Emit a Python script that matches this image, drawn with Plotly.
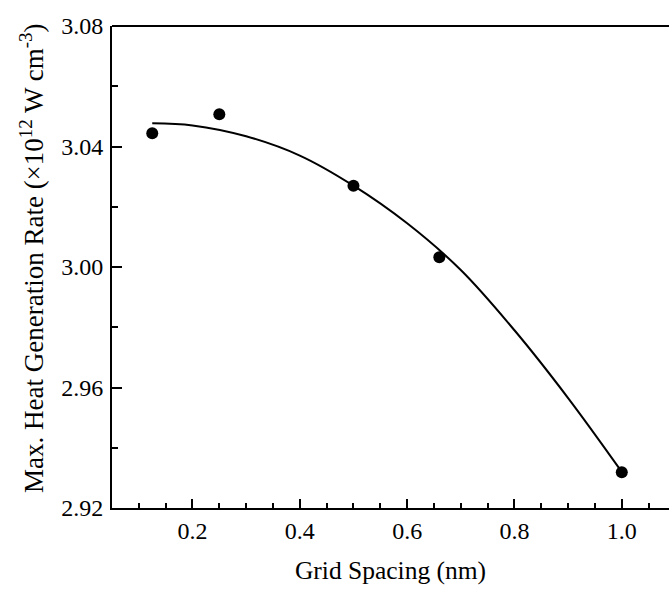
import plotly.graph_objects as go

# Data points
grid_spacing = [0.125, 0.25, 0.5, 0.66, 1.0]
max_heat_rate = [3.0444, 3.0507, 3.0270, 3.0032, 2.9319]

# Fitted curve samples
fit_x = [0.125, 0.2, 0.3, 0.4, 0.5, 0.6, 0.7, 0.8, 0.9, 1.0]
fit_y = [3.0477, 3.0470, 3.0434, 3.0370, 3.0270, 3.0145, 2.9990, 2.9790, 2.9565, 2.9320]

x_ticks = [0.2, 0.4, 0.6, 0.8, 1.0]
x_ticklabels = ["0.2", "0.4", "0.6", "0.8", "1.0"]
y_ticks = [2.92, 2.96, 3.00, 3.04, 3.08]
y_ticklabels = ["2.92", "2.96", "3.00", "3.04", "3.08"]

x_title = "Grid Spacing (nm)"
y_title = "Max. Heat Generation Rate (×10<sup>12</sup> W cm<sup>-3</sup>)"

FONT = "Liberation Serif"

fig = go.Figure()
fig.add_trace(go.Scatter(x=fit_x, y=fit_y, mode="lines",
                         line=dict(color="black", width=2, shape="spline"),
                         showlegend=False, hoverinfo="skip"))
fig.add_trace(go.Scatter(x=grid_spacing, y=max_heat_rate, mode="markers",
                         marker=dict(color="black", size=12),
                         showlegend=False))

fig.update_layout(
    width=669, height=590,
    margin=dict(l=112, r=0, t=26, b=82),
    paper_bgcolor="white", plot_bgcolor="white",
    font=dict(family=FONT, size=24, color="black"),
    xaxis=dict(
        range=[0.05, 1.088],
        tickvals=x_ticks, ticktext=x_ticklabels,
        ticks="inside", ticklen=9, tickwidth=2, tickcolor="black",
        minor=dict(dtick=0.05, tick0=0, ticks="inside", ticklen=5, tickwidth=2, tickcolor="black"),
        showline=True, linewidth=2, linecolor="black",
        showgrid=False, zeroline=False,
        tickfont=dict(family=FONT, size=24),
        title=dict(text=x_title, font=dict(family=FONT, size=25.5), standoff=18),
        automargin=False,
    ),
    yaxis=dict(
        range=[2.92, 3.08],
        tickvals=y_ticks, ticktext=y_ticklabels,
        ticks="inside", ticklen=10, tickwidth=2, tickcolor="black",
        minor=dict(dtick=0.02, tick0=2.92, ticks="inside", ticklen=6, tickwidth=2, tickcolor="black"),
        showline=True, linewidth=2, linecolor="black",
        showgrid=False, zeroline=False,
        tickfont=dict(family=FONT, size=24),
        ticklabelstandoff=2,
        automargin=False,
    ),
    annotations=[dict(text=y_title, xref="paper", yref="paper", x=-0.1436, y=0.5187,
                      xanchor="center", yanchor="middle", textangle=-90, showarrow=False,
                      font=dict(family=FONT, size=27, color="black"))],
    shapes=[dict(type="line", xref="paper", yref="paper", x0=0, x1=1, y0=1, y1=1,
                 line=dict(color="black", width=2))],
)

fig.write_html("out.html")
